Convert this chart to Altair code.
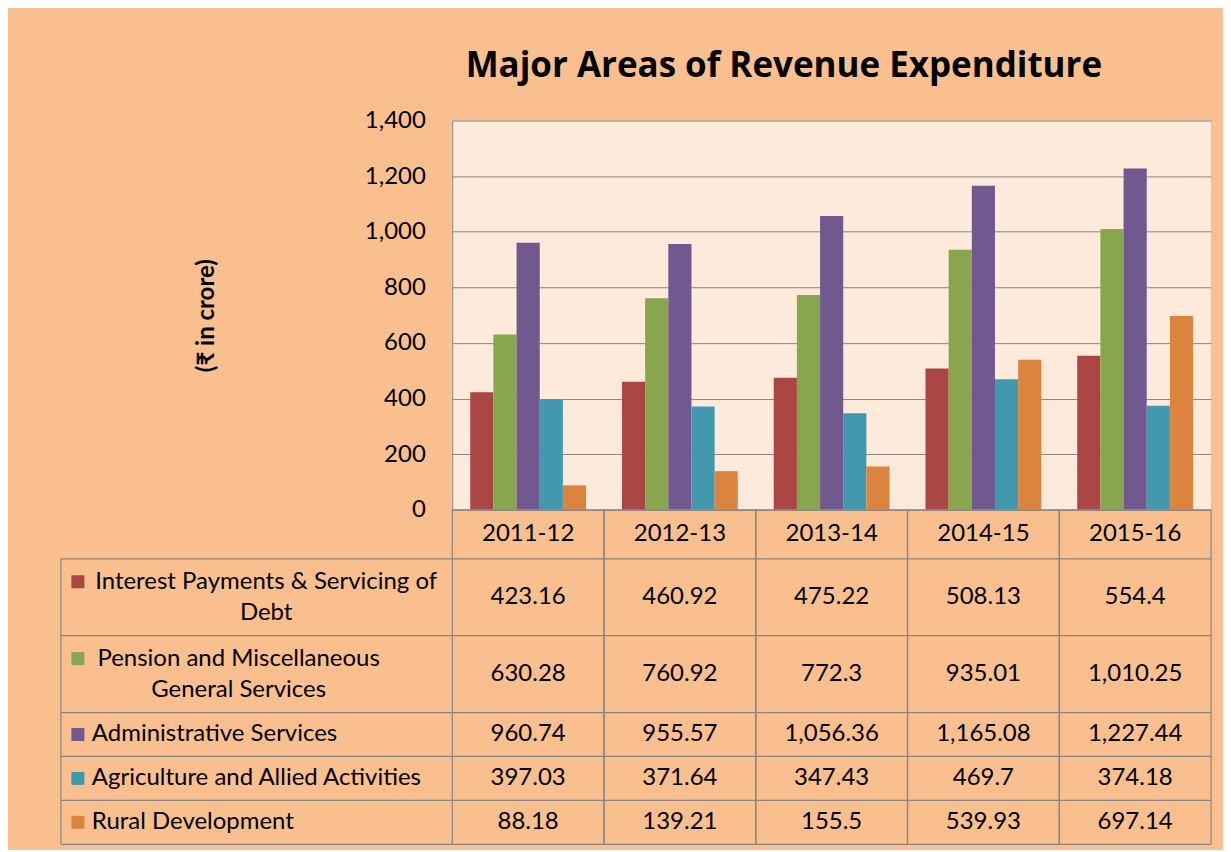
import altair as alt
import pandas as pd

# ---------------- data ----------------
years = ["2011-12", "2012-13", "2013-14", "2014-15", "2015-16"]
series = [
    "Interest Payments & Servicing of Debt",
    "Pension and Miscellaneous General Services",
    "Administrative Services",
    "Agriculture and Allied Activities",
    "Rural Development",
]
label_lines = [
    ["Interest Payments & Servicing of", "Debt"],
    ["Pension and Miscellaneous", "General Services"],
    ["Administrative Services"],
    ["Agriculture and Allied Activities"],
    ["Rural Development"],
]
interest = [423.16, 460.92, 475.22, 508.13, 554.4]
pension = [630.28, 760.92, 772.3, 935.01, 1010.25]
admin = [960.74, 955.57, 1056.36, 1165.08, 1227.44]
agri = [397.03, 371.64, 347.43, 469.7, 374.18]
rural = [88.18, 139.21, 155.5, 539.93, 697.14]
y_ticks = [0, 200, 400, 600, 800, 1000, 1200, 1400]

# ---------------- style / layout ----------------
colors = ["#AA4643", "#89A54E", "#71588F", "#4198AF", "#DB843D"]
BG = "#F9BF8F"
PLOT_BG = "#FDEADA"
GRID = "#868686"
FONT = "Lato"
FS = 24

PLOT_W, PLOT_H = 760, 390
LABEL_W = 392
HEADER_H = 49
LINE_H = 33
ROW_PAD = 11
SQ_X = 17
SQ = 13
TEXT_X = 31


def est_w(s, size=FS):
    w = 0.0
    for ch in s:
        if ch == " ":
            w += 0.26
        elif ch in "iljftrI.,'":
            w += 0.30
        elif ch in "mwMW":
            w += 0.80
        elif ch == "&":
            w += 0.68
        elif ch.isupper():
            w += 0.64
        else:
            w += 0.52
    return w * size


all_vals = [interest, pension, admin, agri, rural]

bars_df = pd.DataFrame(
    [
        {"series": s, "year": y, "value": v}
        for s, vals in zip(series, all_vals)
        for y, v in zip(years, vals)
    ]
)

# table rows geometry (derived from number of text lines)
rows = []
top = HEADER_H
for s, lines in zip(series, label_lines):
    h = LINE_H * len(lines) + ROW_PAD
    rows.append({"series": s, "top": top, "bottom": top + h, "mid": top + h / 2, "n": len(lines)})
    top += h
TOTAL = top
rows_df = pd.DataFrame(rows)

line_recs = []
for r, lines in zip(rows, label_lines):
    n = len(lines)
    cx = TEXT_X + est_w(lines[0]) / 2 + 3
    for j, line in enumerate(lines):
        y = r["mid"] + (j - (n - 1) / 2) * (LINE_H - 2)
        line_recs.append(
            {
                "series": r["series"],
                "text": line,
                "y": y,
                "x": TEXT_X if n == 1 else cx,
                "kind": "left" if n == 1 else "center",
                "first": j == 0,
            }
        )
lines_df = pd.DataFrame(line_recs)

vals_df = bars_df.merge(rows_df[["series", "mid"]], on="series")
header_df = pd.DataFrame({"year": years, "y": [HEADER_H / 2] * len(years)})
hlines_vals = pd.DataFrame({"y": [0] + [r["top"] for r in rows] + [TOTAL]})
hlines_lab = pd.DataFrame({"y": [r["top"] for r in rows] + [TOTAL]})

color_enc = alt.Color(
    "series:N", sort=series, scale=alt.Scale(domain=series, range=colors), legend=None
)
no_view = alt.ViewBackground(fill="transparent", stroke="transparent", strokeWidth=0)

# ---------------- bar chart ----------------
bars = (
    alt.Chart(bars_df)
    .mark_bar(cornerRadius=0)
    .encode(
        x=alt.X(
            "year:N",
            sort=years,
            scale=alt.Scale(paddingInner=36 / 152, paddingOuter=18 / 152),
            axis=None,
        ),
        xOffset=alt.XOffset(
            "series:N", sort=series, scale=alt.Scale(paddingInner=0, paddingOuter=0)
        ),
        y=alt.Y(
            "value:Q",
            scale=alt.Scale(domain=[0, 1400], nice=False),
            axis=alt.Axis(
                values=y_ticks,
                format=",d",
                title="(₹ in crore)",
                titleFont=FONT,
                titleFontSize=24,
                titleFontWeight="bold",
                titleColor="black",
                titlePadding=146,
                labelFont=FONT,
                labelFontSize=FS,
                labelColor="black",
                labelPadding=27,
                ticks=False,
                domainColor=GRID,
                grid=True,
                gridColor=GRID,
                gridOpacity=1,
            ),
        ),
        color=color_enc,
    )
    .properties(width=PLOT_W, height=PLOT_H, view=alt.ViewBackground(fill=PLOT_BG, stroke="transparent", strokeWidth=0))
)

spacer = (
    alt.Chart(pd.DataFrame({"a": [0]}))
    .mark_text(text=" ", opacity=0)
    .encode(x=alt.value(0), y=alt.value(0))
    .properties(width=LABEL_W, height=PLOT_H, view=no_view)
)

# ---------------- table: values part ----------------
tx = alt.X("year:N", sort=years, scale=alt.Scale(paddingInner=0, paddingOuter=0), axis=None)
ty_scale = alt.Scale(domain=[0, TOTAL], reverse=True, nice=False, zero=False)

vr0 = alt.Chart(header_df).mark_rule(color=GRID, strokeWidth=1.2).encode(
    x=alt.X("year:N", sort=years, bandPosition=0, scale=alt.Scale(paddingInner=0, paddingOuter=0), axis=None)
)
vr1 = alt.Chart(header_df).mark_rule(color=GRID, strokeWidth=1.2).encode(
    x=alt.X("year:N", sort=years, bandPosition=1, scale=alt.Scale(paddingInner=0, paddingOuter=0), axis=None)
)
hr = alt.Chart(hlines_vals).mark_rule(color=GRID, strokeWidth=1.2).encode(
    y=alt.Y("y:Q", scale=ty_scale, axis=None)
)
head_txt = alt.Chart(header_df).mark_text(
    font=FONT, fontSize=FS, color="black", align="center", baseline="middle"
).encode(x=tx, y=alt.Y("y:Q", scale=ty_scale, axis=None), text="year:N")
val_txt = alt.Chart(vals_df).mark_text(
    font=FONT, fontSize=FS, color="black", align="center", baseline="middle"
).encode(
    x=tx,
    y=alt.Y("mid:Q", scale=ty_scale, axis=None),
    text=alt.Text("value:Q", format=",.2~f"),
)
values_tbl = alt.layer(vr0, vr1, hr, head_txt, val_txt).properties(
    width=PLOT_W, height=TOTAL, view=no_view
)

# ---------------- table: label part ----------------
lx_scale = alt.Scale(domain=[0, LABEL_W], nice=False, zero=False)
lhr = alt.Chart(hlines_lab).mark_rule(color=GRID, strokeWidth=1.2).encode(
    y=alt.Y("y:Q", scale=ty_scale, axis=None)
)
lvr = alt.Chart(pd.DataFrame({"a": [0]})).mark_rule(color=GRID, strokeWidth=1.2).encode(
    x=alt.datum(0, scale=lx_scale, axis=None),
    y=alt.datum(HEADER_H, scale=ty_scale, axis=None),
    y2=alt.datum(TOTAL),
)
squares = (
    alt.Chart(lines_df)
    .transform_filter("datum.first")
    .mark_square(size=SQ * SQ, opacity=1)
    .encode(
        x=alt.datum(SQ_X, scale=lx_scale, axis=None),
        y=alt.Y("y:Q", scale=ty_scale, axis=None),
        color=color_enc,
    )
)
ltxt_left = (
    alt.Chart(lines_df)
    .transform_filter("datum.kind == 'left'")
    .mark_text(font=FONT, fontSize=FS, color="black", align="left", baseline="middle")
    .encode(
        x=alt.X("x:Q", scale=lx_scale, axis=None),
        y=alt.Y("y:Q", scale=ty_scale, axis=None),
        text="text:N",
    )
)
ltxt_center = (
    alt.Chart(lines_df)
    .transform_filter("datum.kind == 'center'")
    .mark_text(font=FONT, fontSize=FS, color="black", align="center", baseline="middle")
    .encode(
        x=alt.X("x:Q", scale=lx_scale, axis=None),
        y=alt.Y("y:Q", scale=ty_scale, axis=None),
        text="text:N",
    )
)
labels_tbl = alt.layer(lhr, lvr, squares, ltxt_left, ltxt_center).properties(
    width=LABEL_W, height=TOTAL, view=no_view
)

chart = (
    alt.concat(
        spacer,
        bars,
        labels_tbl,
        values_tbl,
        columns=2,
        spacing=0,
        bounds="flush",
        align="each",
        title=alt.TitleParams(
            "Major Areas of Revenue Expenditure",
            font="Open Sans",
            fontSize=35,
            fontWeight="bold",
            color="black",
            anchor="start",
            dx=406,
            offset=25,
        ),
    )
    .resolve_scale(x="independent", y="independent")
    .properties(padding={"left": 52, "top": 40, "right": 11, "bottom": 4}, background=BG)
    .configure_view(stroke="transparent")
    .configure(font=FONT)
)

chart.save("out.html", embed_options={"renderer": "svg", "actions": False})
